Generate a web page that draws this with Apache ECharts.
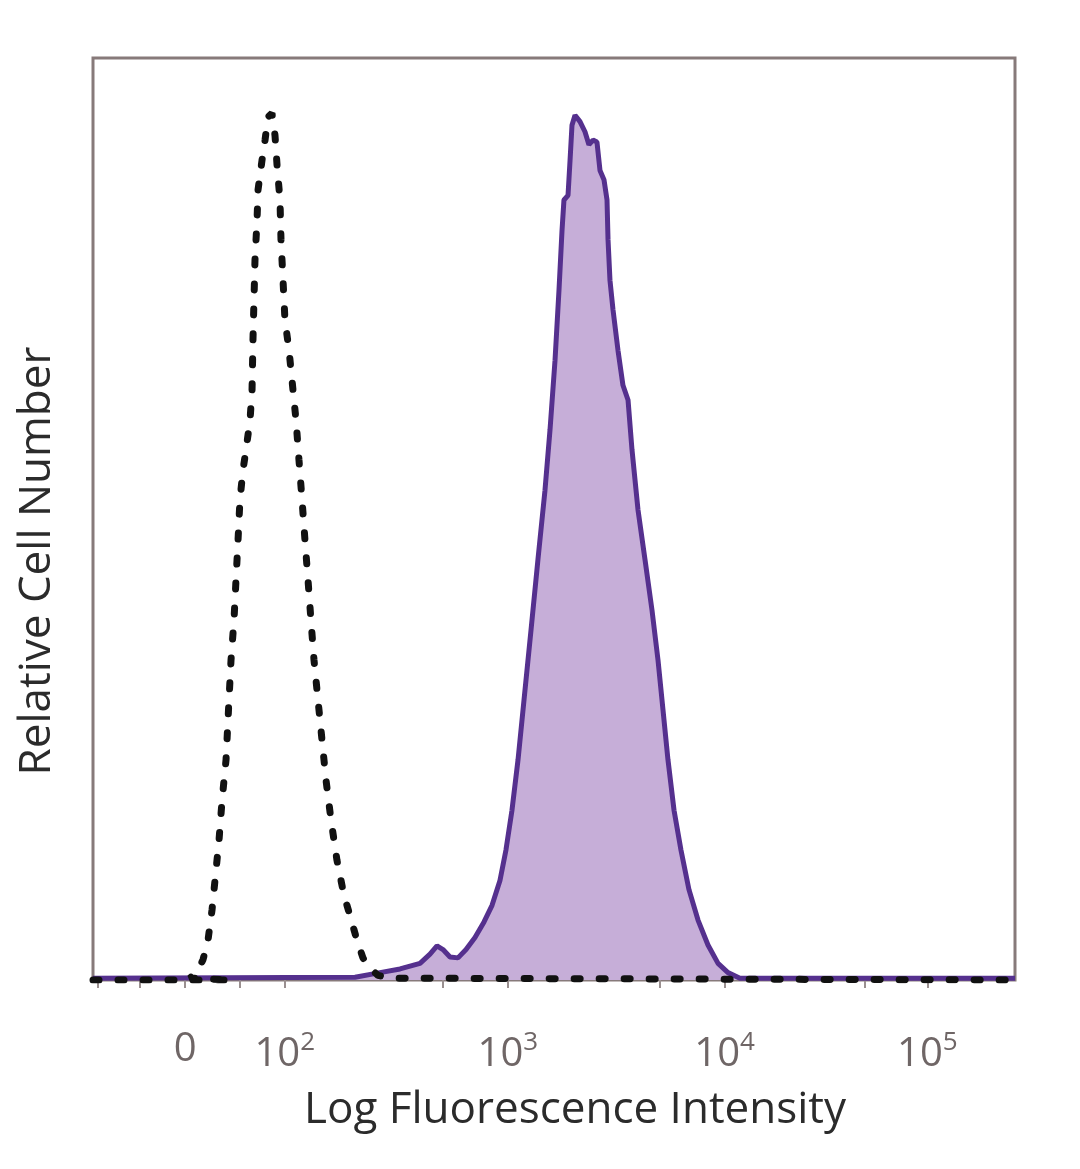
<!DOCTYPE html>
<html>
<head>
<meta charset="utf-8">
<script src="https://cdn.jsdelivr.net/npm/echarts@6/dist/echarts.min.js"></script>
<style>
html,body{margin:0;padding:0;background:#fff;}
#chart{width:1080px;height:1169px;}
</style>
</head>
<body>
<div id="chart"></div>
<script>
// x in display channel units (biexponential display, 0..1000), y = % of plot height
const controlX = [0,150,105.2,113.9,119.3,124.7,129.1,132.3,136.7,140.0,144.3,147.5,149.7,152.9,155.1,157.3,159.4,162.7,165.9,170.3,172.5,173.5,174.6,175.7,177.9,179.0,183.3,186.6,189.8,194.1,197.4,199.6,202.8,203.9,206.1,208.2,212.6,215.8,220.2,223.4,226.7,229.9,233.2,236.4,239.7,244.0,248.4,252.7,258.1,264.6,272.2,278.7,286.3,292.8,300.4,309.1,322.1,1000];
const controlY = [0,0,0.2,1.1,2.2,4.3,7.6,10.8,15.2,19.5,23.9,30.4,34.7,39.0,43.4,47.7,52.1,55.3,57.5,60.7,64.0,69.4,73.8,78.1,82.4,85.7,88.9,91.1,93.6,94.0,91.6,88.4,84.6,80.3,75.9,71.6,68.3,65.1,60.7,56.4,52.1,47.7,43.4,39.0,34.7,30.4,26.0,21.7,17.4,13.0,9.2,7.0,4.3,2.4,1.3,0.5,0.2,0];
const sampleX = [0,284.2,311.3,333.0,354.7,365.5,373.1,379.6,387.2,395.9,404.6,414.3,424.1,432.8,441.4,447.9,454.4,461.0,467.5,475.1,482.6,490.2,495.7,501.1,505.4,508.7,510.8,515.2,517.4,519.5,522.8,528.2,533.6,537.9,542.3,546.6,549.9,554.2,557.5,558.6,560.7,564.0,569.4,574.8,580.3,584.6,591.1,598.7,606.3,612.8,618.2,623.6,630.2,637.7,646.4,656.2,667.0,677.9,688.7,701.7,1000];
const sampleY = [0.2,0.3,0.8,1.2,1.8,2.8,3.7,3.3,2.5,2.4,3.3,4.6,6.3,8.1,10.8,14.1,18.4,23.9,30.4,38.0,45.6,53.1,59.7,67.2,74.8,81.3,84.6,85.1,88.9,92.7,93.8,93.1,92.0,90.6,91.1,90.9,87.8,86.8,84.6,80.3,75.9,72.7,68.3,64.5,62.9,57.5,51.0,45.6,40.1,34.7,29.3,23.9,18.4,14.1,9.8,6.5,3.8,1.8,0.8,0.2,0.2];
const majorTickPos = [100,208,450,685,905];
const majorTickExp = ['0','2','3','4','5'];
const minorTickPos = [5,51,159,379,615,837];

const zip = (xs, ys) => xs.map((x, i) => [x, ys[i]]);
const labelFor = {};
majorTickPos.forEach((p, i) => { labelFor[p] = majorTickExp[i]; });

const chart = echarts.init(document.getElementById('chart'), null, {renderer: 'canvas'});
chart.setOption({
  animation: false,
  backgroundColor: '#ffffff',
  grid: {left: 93, right: 65, top: 58, bottom: 189, show: true, borderColor: '#877a7a', borderWidth: 3, backgroundColor: '#ffffff'},
  xAxis: {
    type: 'value', min: 0, max: 1000,
    name: 'Log Fluorescence Intensity', nameLocation: 'middle', nameGap: 108,
    nameTextStyle: {fontFamily: 'Open Sans', fontSize: 44, color: '#2b2b2b', padding: [0, 0, 0, 42]},
    axisLine: {show: false},
    splitLine: {show: false},
    axisTick: {show: true, length: 8, customValues: minorTickPos.concat(majorTickPos).sort((a,b)=>a-b), lineStyle: {color: '#9a9090', width: 2}},
    axisLabel: {
      customValues: majorTickPos, margin: 50,
      formatter: v => { const e = labelFor[v]; return e === '0' ? '{b|0}' : '{b|10}{s|' + e + '}'; },
      rich: {
        b: {fontFamily: 'Open Sans', fontSize: 40, color: '#6f6666'},
        s: {fontFamily: 'Open Sans', fontSize: 26, color: '#6f6666', verticalAlign: 'top', padding: [0, 0, 24, 0]}
      }
    }
  },
  yAxis: {
    type: 'value', min: 0, max: 100,
    name: 'Relative Cell Number', nameLocation: 'middle', nameGap: 34,
    nameTextStyle: {fontFamily: 'Open Sans', fontSize: 44, color: '#2b2b2b', padding: [0, 84, 0, 0]},
    axisLine: {show: false}, axisTick: {show: false}, axisLabel: {show: false}, splitLine: {show: false}
  },
  series: [
    {
      name: 'Sample', type: 'line', data: zip(sampleX, sampleY), showSymbol: false, z: 2,
      lineStyle: {color: '#55308e', width: 5},
      areaStyle: {color: '#c6aed8', opacity: 1}
    },
    {
      name: 'Control', type: 'line', data: zip(controlX, controlY), showSymbol: false, z: 3,
      lineStyle: {color: '#111111', width: 7, type: [6, 19], cap: 'round'}
    }
  ]
});
</script>
</body>
</html>
